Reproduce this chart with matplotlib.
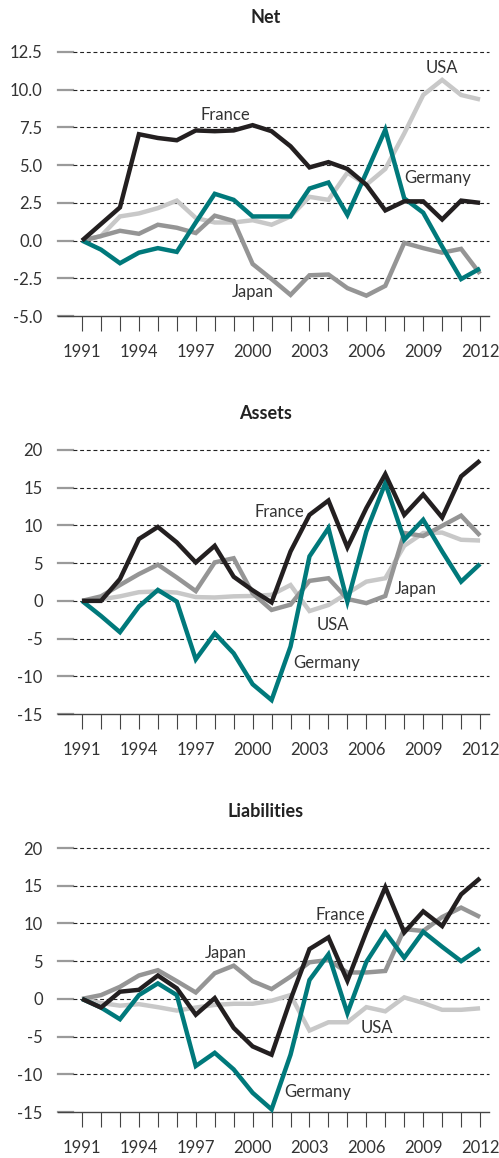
import matplotlib
matplotlib.use("Agg")
import matplotlib.pyplot as plt
import numpy as np

# --- data ---
years = list(range(1991, 2013))

net_france = [0, 1.1, 2.2, 7.05, 6.8, 6.65, 7.3, 7.25, 7.3, 7.65, 7.25, 6.25, 4.85, 5.2, 4.75, 3.7, 2.0, 2.6, 2.6, 1.4, 2.65, 2.5]
net_germany = [0, -0.6, -1.5, -0.8, -0.5, -0.75, 1.2, 3.1, 2.7, 1.6, 1.6, 1.6, 3.45, 3.85, 1.7, 4.5, 7.35, 2.8, 1.85, -0.4, -2.55, -1.85]
net_japan = [0, 0.3, 0.65, 0.45, 1.05, 0.85, 0.5, 1.65, 1.3, -1.55, -2.55, -3.6, -2.3, -2.25, -3.15, -3.65, -3.0, -0.15, -0.5, -0.8, -0.55, -2.2]
net_usa = [0, 0.3, 1.6, 1.8, 2.15, 2.65, 1.5, 1.2, 1.2, 1.35, 1.05, 1.6, 2.9, 2.7, 4.5, 3.7, 4.75, 7.1, 9.65, 10.65, 9.65, 9.35]

assets_france = [0, 0, 2.9, 8.2, 9.8, 7.75, 5.1, 7.3, 3.2, 1.4, -0.2, 6.55, 11.4, 13.3, 7.1, 12.3, 16.8, 11.4, 14.1, 11.05, 16.5, 18.6]
assets_germany = [0, -2.0, -4.15, -0.75, 1.45, -0.1, -7.75, -4.3, -6.95, -11.05, -13.15, -6.05, 5.9, 9.65, -0.1, 9.2, 15.6, 8.1, 10.75, 6.55, 2.55, 4.9]
assets_japan = [0, 0.6, 2.1, 3.55, 4.8, 3.1, 1.3, 5.1, 5.65, 1.0, -1.2, -0.5, 2.65, 3.0, 0.25, -0.3, 0.65, 9.0, 8.6, 9.95, 11.3, 8.65]
assets_usa = [0, 0.2, 0.6, 1.15, 1.25, 1.1, 0.5, 0.45, 0.6, 0.65, 0.8, 2.1, -1.35, -0.55, 1.0, 2.55, 3.0, 7.3, 9.0, 9.05, 8.1, 8.0]

liab_france = [0, -1.15, 0.95, 1.2, 3.1, 1.4, -2.1, 0.1, -3.85, -6.3, -7.4, -0.1, 6.6, 8.15, 2.4, 8.9, 14.8, 8.8, 11.6, 9.65, 13.85, 16.0]
liab_germany = [0, -1.15, -2.7, 0.5, 2.05, 0.5, -8.9, -7.15, -9.35, -12.45, -14.65, -7.4, 2.5, 5.9, -1.9, 4.9, 8.8, 5.45, 8.9, 6.9, 5.0, 6.7]
liab_japan = [0, 0.5, 1.6, 3.1, 3.8, 2.35, 0.85, 3.4, 4.4, 2.35, 1.3, 2.95, 4.85, 5.15, 3.5, 3.5, 3.7, 9.25, 9.0, 10.85, 12.1, 10.85]
liab_usa = [0, -0.55, -0.9, -0.7, -1.1, -1.55, -1.15, -0.8, -0.65, -0.65, -0.25, 0.5, -4.2, -3.1, -3.1, -1.1, -1.65, 0.2, -0.55, -1.45, -1.45, -1.25]

net_yticks = [-5.0, -2.5, 0.0, 2.5, 5.0, 7.5, 10.0, 12.5]
other_yticks = [-15, -10, -5, 0, 5, 10, 15, 20]

# label positions (x, y) for each country per panel
net_labels = {"France": (1998.55, 8.35), "USA": (2010.0, 11.45), "Germany": (2009.75, 4.15), "Japan": (2000.0, -3.4)}
assets_labels = {"France": (2001.4, 11.8), "Japan": (2008.6, 1.6), "USA": (2004.25, -3.2), "Germany": (2003.9, -8.2)}
liab_labels = {"France": (2004.65, 11.1), "Japan": (1998.6, 6.05), "USA": (2006.55, -3.8), "Germany": (2003.45, -12.3)}

colors = {"USA": "#c8c8c8", "Japan": "#959595", "Germany": "#00797b", "France": "#231f20"}
order = ["USA", "Japan", "Germany", "France"]

plt.rcParams['font.family'] = ['Lato', 'DejaVu Sans']
text_col = "#333333"

fig = plt.figure(figsize=(4.99, 11.58), dpi=100)

panels = [
    ("Net", {"France": net_france, "Germany": net_germany, "Japan": net_japan, "USA": net_usa},
     net_yticks, ["%.1f" % v for v in net_yticks], net_labels, 0.7271, 0.9853),
    ("Assets", {"France": assets_france, "Germany": assets_germany, "Japan": assets_japan, "USA": assets_usa},
     other_yticks, [str(v) for v in other_yticks], assets_labels, 0.3834, 0.6425),
    ("Liabilities", {"France": liab_france, "Germany": liab_germany, "Japan": liab_japan, "USA": liab_usa},
     other_yticks, [str(v) for v in other_yticks], liab_labels, 0.0397, 0.2988),
]

for title, series, yticks, ylabels, labels, bottom, title_y in panels:
    ax = fig.add_axes([0.1162, bottom, 0.8637, 0.228])
    ax.set_xlim(1989.73, 2012.47)
    ax.set_ylim(yticks[0], yticks[-1])

    for s in ["top", "right", "left"]:
        ax.spines[s].set_visible(False)
    ax.spines["bottom"].set_color("#444444")
    ax.spines["bottom"].set_linewidth(1.0)

    # gridlines: short grey stub + dashed line
    for v in yticks:
        ax.axhline(v, xmin=0, xmax=0.035, color="#9a9a9a", lw=1.6, clip_on=False, zorder=1)
        if v != yticks[0]:
            ax.axhline(v, xmin=0.035, xmax=1, color="#222222", lw=0.8,
                       linestyle=(0, (3.5, 2.5)), clip_on=False, zorder=1)

    for c in order:
        ax.plot(years, series[c], color=colors[c], lw=3.2, solid_joinstyle="miter",
                solid_capstyle="butt", zorder=3 + order.index(c), clip_on=False)

    ax.set_xticks(years)
    ax.set_xticklabels([str(y) if (y - 1991) % 3 == 0 else "" for y in years])
    ax.tick_params(axis="x", direction="out", length=11, width=0.8, color="#444444",
                   pad=9, labelsize=12, labelcolor=text_col)
    ax.set_yticks(yticks)
    ax.set_yticklabels(ylabels)
    ax.tick_params(axis="y", length=0, pad=11, labelsize=12, labelcolor=text_col)

    for name, (lx, ly) in labels.items():
        ax.text(lx, ly, name, ha="center", va="center", fontsize=12, color=text_col, zorder=10)

    fig.text(0.533, title_y, title, ha="center", va="center", fontsize=13,
             fontweight="bold", color="#222222")

fig.savefig("out.png", dpi=100)
